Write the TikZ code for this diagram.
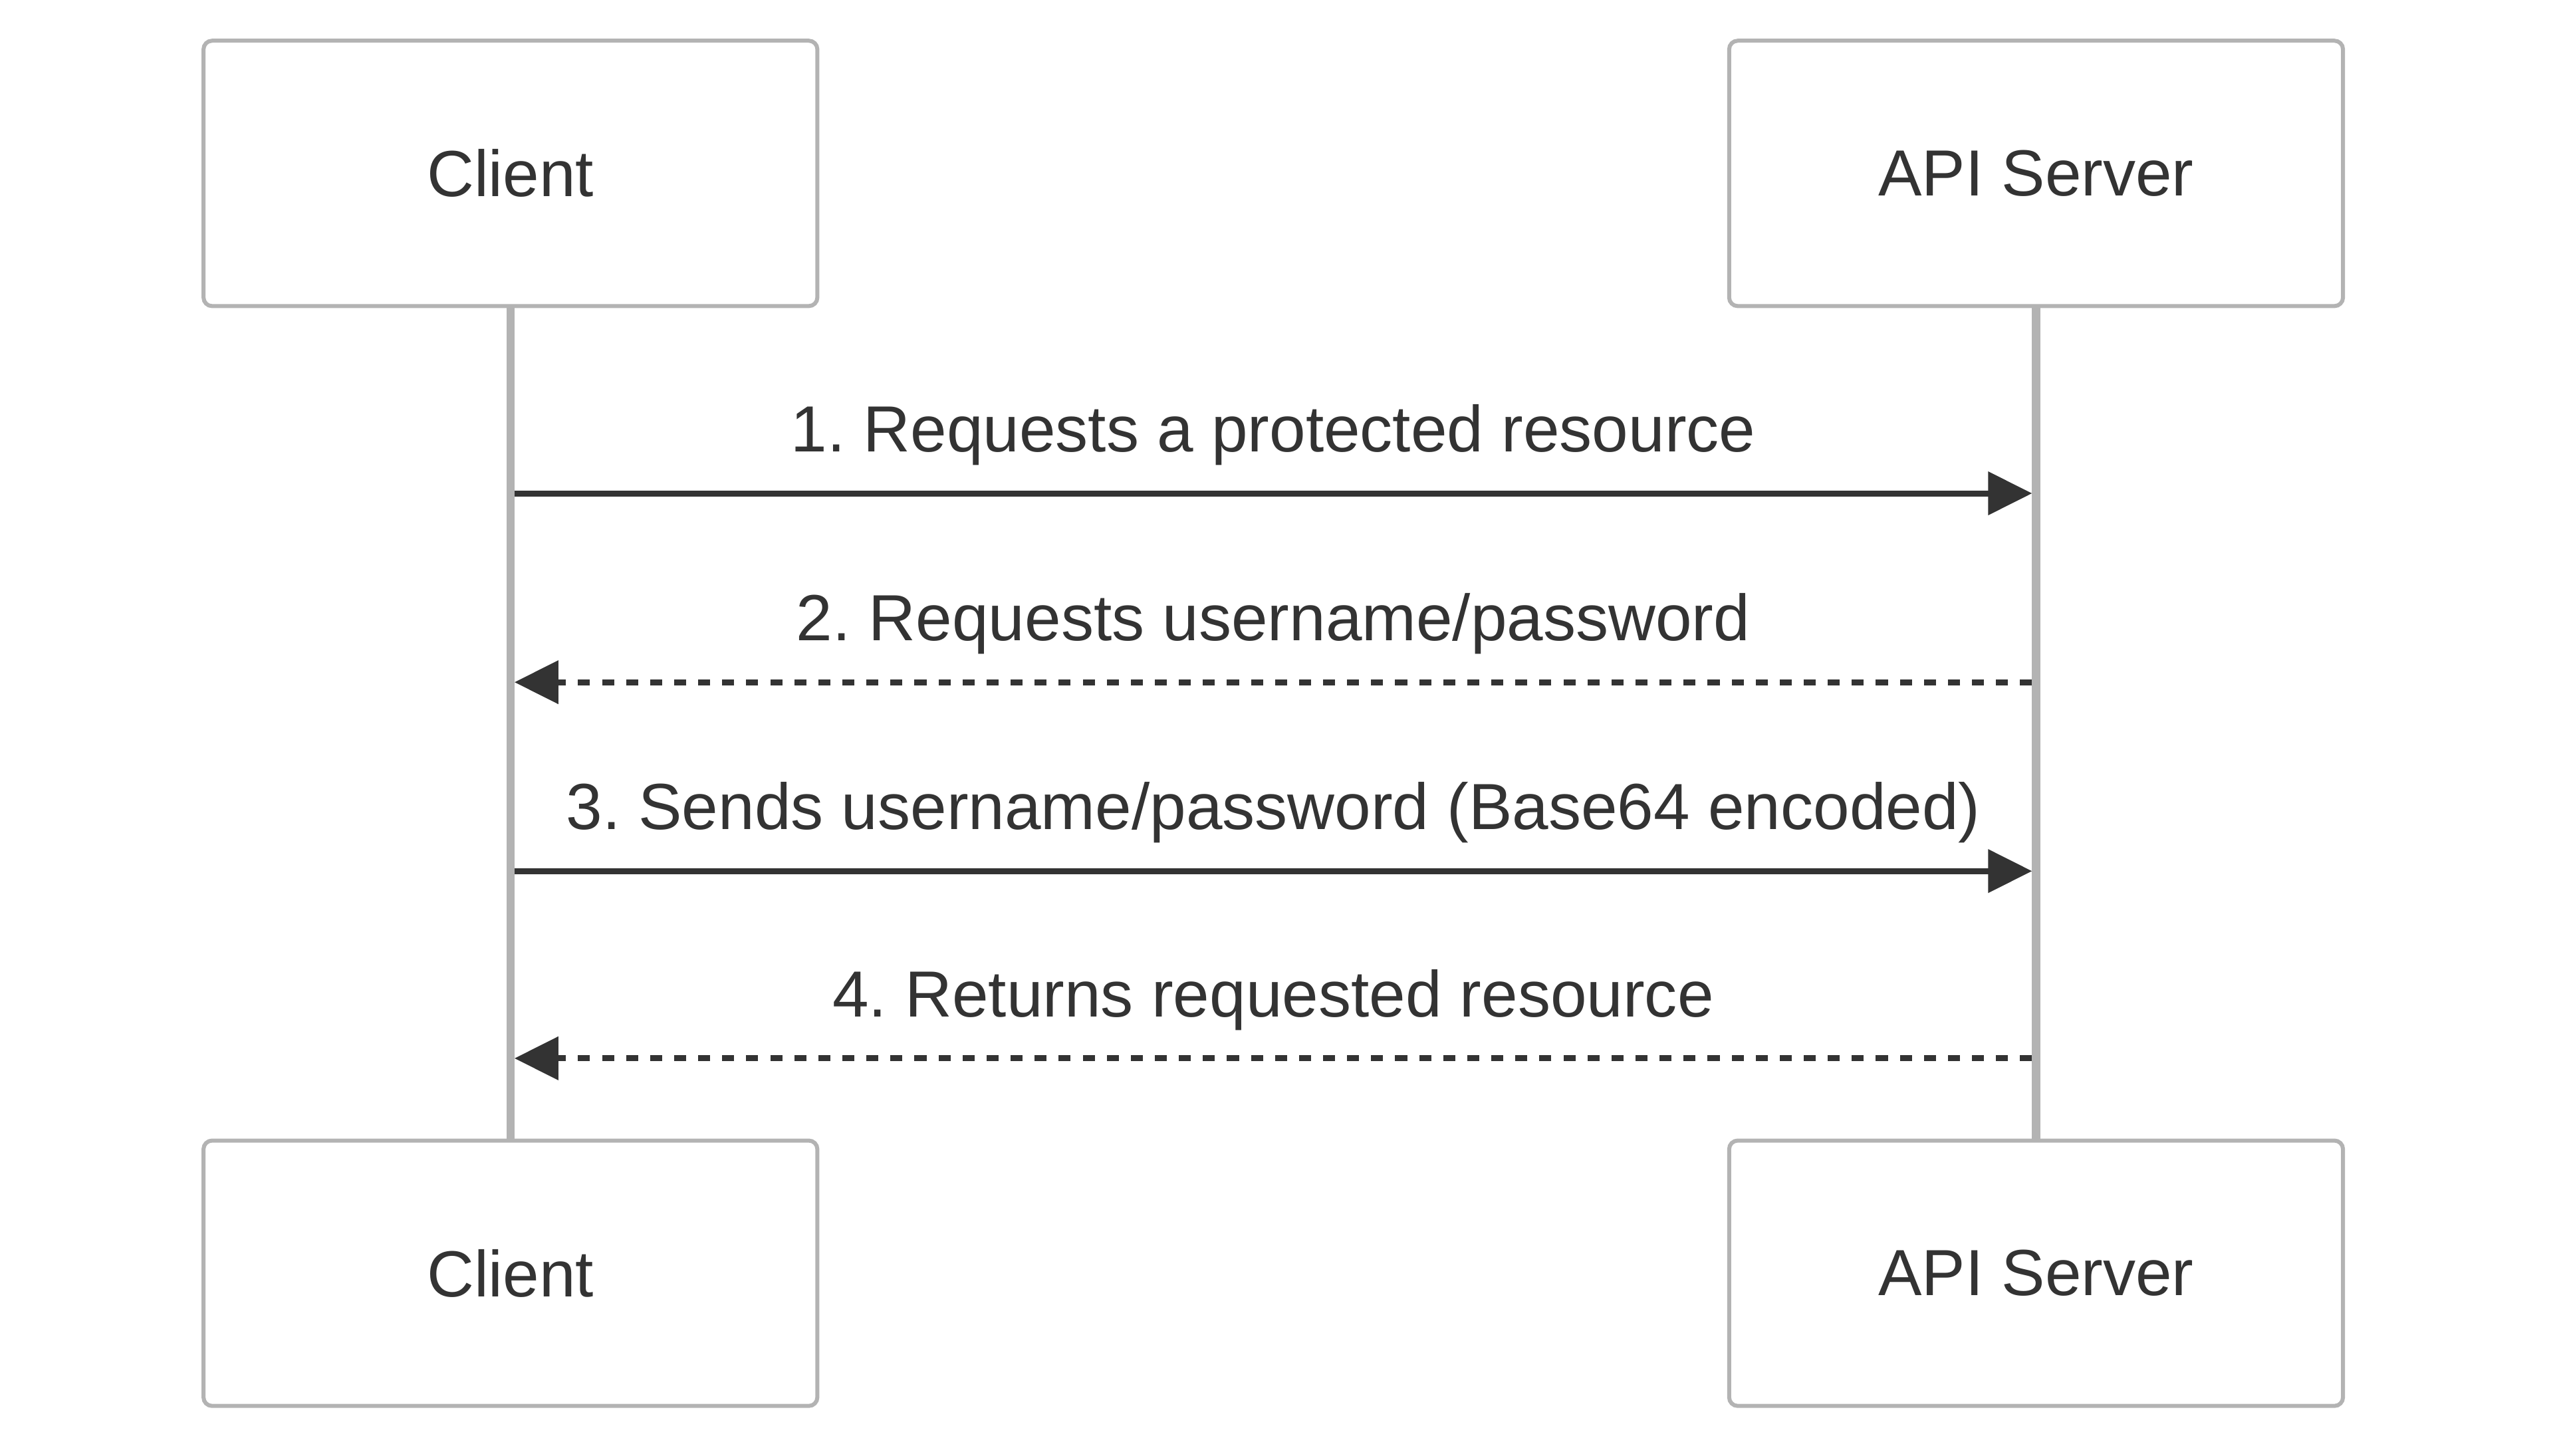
\documentclass[tikz,border=0pt]{standalone}
\usepackage{fontspec}
\setmainfont{Liberation Sans}
\usepackage{xcolor}
\usetikzlibrary{arrows.meta, positioning}
\definecolor{ink}{HTML}{333333}
\definecolor{lifegray}{HTML}{B3B3B3}
\frenchspacing

\begin{document}
\begin{tikzpicture}[
    >={Triangle[length=0.27cm, width=0.26cm]},
    actor/.style={draw=lifegray, line width=0.7pt, rounded corners=1.5pt, fill=white,
                  minimum width=3.77cm, minimum height=1.63cm, text=ink,
                  font=\fontsize{11.4}{14}\selectfont},
    lifeline/.style={draw=lifegray, line width=1.4pt},
    msg/.style={draw=ink, line width=1.05pt, ->},
    reply/.style={msg, dash pattern=on 2.1pt off 2.1pt},
    lbl/.style={text=ink, anchor=base, yshift=0.255cm,
                font=\fontsize{11.4}{14}\selectfont}
  ]
  \useasboundingbox (0,0) rectangle (15.68,8.94);

  % Participants, top and bottom
  \node[actor] (clientTop) at (3.135,7.875) {Client};
  \node[actor] (serverTop) at (12.505,7.875) {API Server};
  \node[actor] (clientBot) at (3.135,1.12) {Client};
  \node[actor] (serverBot) at (12.505,1.12) {API Server};

  % Lifelines
  \draw[lifeline] (clientTop) -- (clientBot);
  \draw[lifeline] (serverTop) -- (serverBot);

  % Message end points on the lifelines
  \coordinate (c1) at (clientTop |- 0,5.91);
  \coordinate (s1) at (serverTop |- 0,5.91);
  \coordinate (c2) at (clientTop |- 0,4.75);
  \coordinate (s2) at (serverTop |- 0,4.75);
  \coordinate (c3) at (clientTop |- 0,3.59);
  \coordinate (s3) at (serverTop |- 0,3.59);
  \coordinate (c4) at (clientTop |- 0,2.44);
  \coordinate (s4) at (serverTop |- 0,2.44);

  % Messages
  \draw[msg] ([xshift=0.7pt]c1) -- ([xshift=-0.7pt]s1)
    node[lbl, midway] {1. Requests a protected resource};
  \draw[reply] ([xshift=-0.7pt]s2) -- ([xshift=0.7pt]c2)
    node[lbl, midway] {2. Requests username/password};
  \draw[msg] ([xshift=0.7pt]c3) -- ([xshift=-0.7pt]s3)
    node[lbl, midway] {3. Sends username/password (Base64 encoded)};
  \draw[reply] ([xshift=-0.7pt]s4) -- ([xshift=0.7pt]c4)
    node[lbl, midway] {4. Returns requested resource};

\end{tikzpicture}
\end{document}
